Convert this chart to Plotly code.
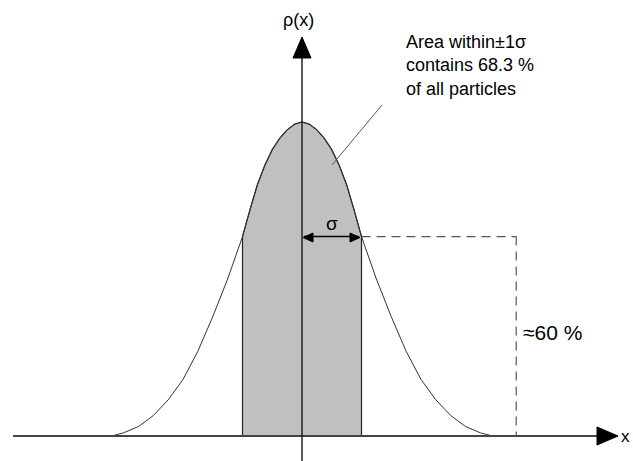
import plotly.graph_objects as go

# ---- data (x in units of sigma, rho as fraction of peak height) ----
curve_x = [-3.2, -3.0, -2.75, -2.5, -2.25, -2.0, -1.75, -1.5, -1.25, -1.0,
           -0.875, -0.75, -0.625, -0.5, -0.375, -0.25, -0.125, 0.0,
           0.125, 0.25, 0.375, 0.5, 0.625, 0.75, 0.875, 1.0,
           1.25, 1.5, 1.75, 2.0, 2.25, 2.5, 2.75, 3.0, 3.2]
curve_y = [0.0, 0.01, 0.03, 0.065, 0.115, 0.18, 0.27, 0.38, 0.50, 0.635,
           0.72, 0.80, 0.862, 0.912, 0.948, 0.975, 0.993, 1.0,
           0.993, 0.975, 0.948, 0.912, 0.862, 0.80, 0.72, 0.635,
           0.50, 0.38, 0.27, 0.18, 0.115, 0.065, 0.03, 0.01, 0.0]
sigma_level = 0.635          # ~60 % of the peak
dash_x = 3.6                 # position of the vertical dashed line
annot_lines = ["Area within\u00b11\u03c3", "contains 68.3 %", "of all particles"]
pct_label = "\u224860 %"

# ---- geometry helpers (pixel -> data) ----
W, H = 633, 461
X0, SIG = 302.0, 59.5       # pixel of x=0, pixels per sigma
Y0, PK = 436.0, 314.0       # pixel of rho=0, pixels for peak
def px(p): return (p - X0) / SIG
def py(p): return (Y0 - p) / PK

fig = go.Figure()

# shaded +-1 sigma region
sx = [x for x in curve_x if -1.0 <= x <= 1.0]
sy = [y for x, y in zip(curve_x, curve_y) if -1.0 <= x <= 1.0]
fig.add_trace(go.Scatter(x=[-1.0] + sx + [1.0], y=[0.0] + sy + [0.0],
                         mode="lines", fill="toself", fillcolor="#c0c0c0",
                         line=dict(color="#222222", width=1.2),
                         hoverinfo="skip", showlegend=False))
# curve
fig.add_trace(go.Scatter(x=curve_x, y=curve_y, mode="lines",
                         line=dict(color="#333333", width=1),
                         hoverinfo="skip", showlegend=False))

shapes = []
# horizontal axis
shapes.append(dict(type="line", x0=px(13), x1=px(600), y0=0, y1=0,
                   line=dict(color="#444444", width=2)))
shapes.append(dict(type="path",
                   path=f"M {px(597)} {py(427)} L {px(618)} {py(436)} L {px(597)} {py(445)} Z",
                   fillcolor="black", line=dict(color="black", width=1)))
# vertical axis
shapes.append(dict(type="line", x0=0, x1=0, y0=py(461), y1=py(55),
                   line=dict(color="#222222", width=1.5)))
shapes.append(dict(type="path",
                   path=f"M {px(293)} {py(58)} L {px(302)} {py(37)} L {px(311)} {py(58)} Z",
                   fillcolor="black", line=dict(color="black", width=1)))
# dashed guides
shapes.append(dict(type="line", x0=1.0, x1=dash_x, y0=sigma_level, y1=sigma_level,
                   line=dict(color="#555555", width=1.2, dash="9px,6px")))
shapes.append(dict(type="line", x0=dash_x, x1=dash_x, y0=sigma_level, y1=0,
                   line=dict(color="#555555", width=1.2, dash="9px,6px")))
# leader line
shapes.append(dict(type="line", x0=px(382), y0=py(105), x1=px(332), y1=py(165),
                   line=dict(color="#555555", width=1)))
# sigma double arrow
shapes.append(dict(type="line", x0=px(304), x1=px(359), y0=sigma_level, y1=sigma_level,
                   line=dict(color="black", width=1.5)))
shapes.append(dict(type="path",
                   path=f"M {px(313)} {py(233)} L {px(303)} {py(237.5)} L {px(313)} {py(242)} Z",
                   fillcolor="black", line=dict(color="black", width=1)))
shapes.append(dict(type="path",
                   path=f"M {px(350)} {py(233)} L {px(360)} {py(237.5)} L {px(350)} {py(242)} Z",
                   fillcolor="black", line=dict(color="black", width=1)))

font = "Liberation Sans, Arial, sans-serif"
ann = []
ann.append(dict(x=px(298), y=py(20), text="\u03c1(x)", showarrow=False,
                font=dict(family=font, size=18, color="black"),
                xanchor="center", yanchor="middle"))
ann.append(dict(x=px(632), y=py(436), text="x", showarrow=False,
                font=dict(family=font, size=17, color="black"),
                xanchor="right", yanchor="middle", xshift=0))
ann.append(dict(x=px(332), y=py(223), text="\u03c3", showarrow=False,
                font=dict(family=font, size=19, color="black"),
                xanchor="center", yanchor="middle"))
ann.append(dict(x=px(404), y=py(30), text="<br>".join(annot_lines), showarrow=False,
                font=dict(family=font, size=18, color="black"),
                xanchor="left", yanchor="top", align="left"))
ann.append(dict(x=px(521), y=py(332), text=pct_label, showarrow=False,
                font=dict(family=font, size=21, color="black"),
                xanchor="left", yanchor="middle"))

fig.update_layout(
    width=W, height=H, margin=dict(l=0, r=0, t=0, b=0),
    paper_bgcolor="white", plot_bgcolor="white",
    xaxis=dict(range=[px(0), px(W)], visible=False, fixedrange=True),
    yaxis=dict(range=[py(H), py(0)], visible=False, fixedrange=True),
    shapes=shapes, annotations=ann, showlegend=False,
)
fig.write_html("out.html")
